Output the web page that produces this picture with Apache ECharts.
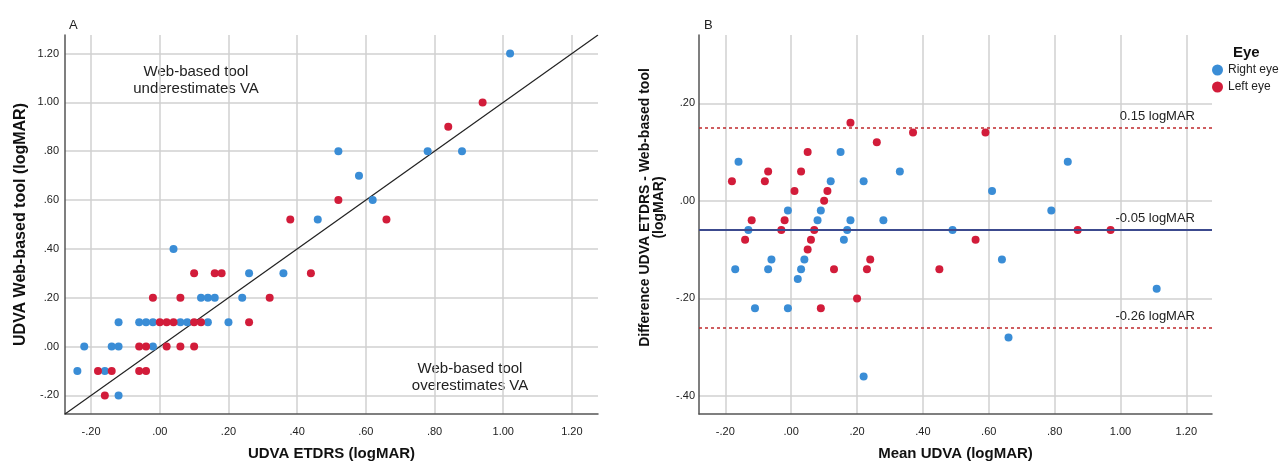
<!DOCTYPE html>
<html>
<head>
<meta charset="utf-8">
<script src="https://cdn.jsdelivr.net/npm/echarts@6/dist/echarts.min.js"></script>
<style>
html,body{margin:0;padding:0;background:#fff;}
#chart{width:1280px;height:466px;}
</style>
</head>
<body>
<div id="chart"></div>
<script>
// ---------- DATA ----------
// Panel A: UDVA ETDRS (x) vs UDVA Web-based tool (y)
const rightEyeA = [
  [0.04,0.40],[0.26,0.30],[0.36,0.30],[0.12,0.20],[0.14,0.20],[0.16,0.20],[0.24,0.20],
  [-0.12,0.10],[-0.06,0.10],[-0.04,0.10],[-0.02,0.10],[0.06,0.10],[0.08,0.10],[0.14,0.10],[0.20,0.10],
  [-0.22,0.00],[-0.14,0.00],[-0.12,0.00],[-0.02,0.00],
  [-0.24,-0.10],[-0.16,-0.10],[-0.12,-0.20],
  [1.02,1.20],[0.78,0.80],[0.88,0.80],[0.52,0.80],[0.58,0.70],[0.62,0.60],[0.46,0.52]
];
const leftEyeA = [
  [0.10,0.30],[0.16,0.30],[0.18,0.30],[0.44,0.30],[-0.02,0.20],[0.06,0.20],[0.32,0.20],
  [0.00,0.10],[0.02,0.10],[0.04,0.10],[0.10,0.10],[0.12,0.10],[0.26,0.10],
  [-0.06,0.00],[-0.04,0.00],[0.02,0.00],[0.06,0.00],[0.10,0.00],
  [-0.18,-0.10],[-0.14,-0.10],[-0.06,-0.10],[-0.04,-0.10],[-0.16,-0.20],
  [0.94,1.00],[0.84,0.90],[0.52,0.60],[0.66,0.52],[0.38,0.52]
];
// Panel B: Mean UDVA (x) vs Difference (y)
const rightEyeB = [
  [-0.16,0.08],[-0.13,-0.06],[-0.01,-0.02],[0.12,0.04],[0.09,-0.02],[0.08,-0.04],[0.15,0.10],
  [0.18,-0.04],[0.17,-0.06],[0.22,0.04],[0.33,0.06],[0.28,-0.04],[0.49,-0.06],[0.84,0.08],
  [0.61,0.02],[0.79,-0.02],[0.16,-0.08],[-0.17,-0.14],[-0.06,-0.12],[-0.07,-0.14],[0.04,-0.12],
  [0.03,-0.14],[0.02,-0.16],[-0.11,-0.22],[-0.01,-0.22],[0.22,-0.36],[0.64,-0.12],[1.11,-0.18],[0.66,-0.28]
];
const leftEyeB = [
  [-0.18,0.04],[-0.08,0.04],[-0.07,0.06],[-0.12,-0.04],[-0.02,-0.04],[-0.03,-0.06],[0.01,0.02],
  [0.03,0.06],[0.05,0.10],[0.10,0.00],[0.11,0.02],[0.07,-0.06],[0.18,0.16],[0.26,0.12],
  [0.37,0.14],[0.59,0.14],[0.87,-0.06],[0.97,-0.06],[-0.14,-0.08],[0.06,-0.08],[0.05,-0.10],
  [0.13,-0.14],[0.23,-0.14],[0.24,-0.12],[0.20,-0.20],[0.09,-0.22],[0.45,-0.14],[0.56,-0.08]
];
// Bland-Altman lines
const loaValues = [0.149, -0.055, -0.258];
const loaLabels = ['0.15 logMAR', '-0.05 logMAR', '-0.26 logMAR'];

// Tick labels
const xTicksA = [-0.2, 0, 0.2, 0.4, 0.6, 0.8, 1.0, 1.2];
const yTicksA = [-0.2, 0, 0.2, 0.4, 0.6, 0.8, 1.0, 1.2];
const xTicksB = [-0.2, 0, 0.2, 0.4, 0.6, 0.8, 1.0, 1.2];
const yTicksB = [-0.4, -0.2, 0, 0.2];

// Axis ranges
const rangeA = [-0.276, 1.276];
const rangeBx = [-0.28, 1.278];
const rangeBy = [-0.437, 0.34];

// ---------- STYLE ----------
const FONT = "'Liberation Sans', Arial, sans-serif";
const BLUE = '#3a8dd6';
const RED = '#d21c3a';
const GRIDC = '#d0d0d0';
const AXISC = '#555';

function fmt(v) {
  const a = Math.abs(v);
  let s = a.toFixed(2);
  if (a < 1) s = s.replace(/^0/, '');
  return (v < -1e-9 ? '-' : '') + s;
}

function axis(gridIndex, min, max, ticks, labelMargin, extra) {
  return Object.assign({
    type: 'value', gridIndex, min, max,
    axisLine: { show: true, onZero: false, lineStyle: { color: AXISC, width: 1.5 } },
    axisTick: { show: false, customValues: ticks },
    axisLabel: { customValues: ticks, formatter: fmt, color: '#222', fontSize: 11, fontFamily: FONT, margin: labelMargin },
    splitLine: { show: true, lineStyle: { color: GRIDC, width: 1.5 } },
    nameTextStyle: { fontFamily: FONT, fontWeight: 'bold', fontSize: 15, color: '#111' }
  }, extra);
}

const chart = echarts.init(document.getElementById('chart'), null, { renderer: 'canvas' });

const option = {
  animation: false,
  backgroundColor: '#fff',
  textStyle: { fontFamily: FONT },
  title: [
    { text: 'A', left: 64, top: 14, textStyle: { fontSize: 13, fontWeight: 'normal', color: '#222', fontFamily: FONT } },
    { text: 'B', left: 699, top: 14, textStyle: { fontSize: 13, fontWeight: 'normal', color: '#222', fontFamily: FONT } },
    { text: 'Eye', left: 1228, top: 40, textStyle: { fontSize: 15, fontWeight: 'bold', color: '#111', fontFamily: FONT } }
  ],
  legend: {
    data: ['Right eye', 'Left eye'],
    orient: 'vertical',
    left: 1212, top: 64, padding: 0,
    icon: 'circle', itemWidth: 11, itemHeight: 11, itemGap: 5,
    textStyle: { fontSize: 12, color: '#222', fontFamily: FONT }
  },
  grid: [
    { left: 65, right: 682, top: 35, bottom: 47 },
    { left: 699, right: 68, top: 35, bottom: 47 }
  ],
  xAxis: [
    axis(0, rangeA[0], rangeA[1], xTicksA, 12, { name: 'UDVA ETDRS (logMAR)', nameLocation: 'middle', nameGap: 32 }),
    axis(1, rangeBx[0], rangeBx[1], xTicksB, 12, { name: 'Mean UDVA (logMAR)', nameLocation: 'middle', nameGap: 32 })
  ],
  yAxis: [
    axis(0, rangeA[0], rangeA[1], yTicksA, 6, {
      name: 'UDVA Web-based tool (logMAR)', nameLocation: 'middle', nameGap: 36,
      nameTextStyle: { fontFamily: FONT, fontWeight: 'bold', fontSize: 16, color: '#111' }
    }),
    axis(1, rangeBy[0], rangeBy[1], yTicksB, 4, {
      name: 'Difference UDVA ETDRS - Web-based tool\n(logMAR)', nameLocation: 'middle', nameGap: 33,
      nameTextStyle: { fontFamily: FONT, fontWeight: 'bold', fontSize: 14, lineHeight: 14, color: '#111', padding: [0, 0, 0, 34] }
    })
  ],
  graphic: [
    { type: 'text', x: 196, y: 80, style: { text: 'Web-based tool\nunderestimates VA', align: 'center', verticalAlign: 'middle', lineHeight: 17, fill: '#222', font: '15px ' + FONT } },
    { type: 'text', x: 470, y: 377, style: { text: 'Web-based tool\noverestimates VA', align: 'center', verticalAlign: 'middle', lineHeight: 17, fill: '#222', font: '15px ' + FONT } }
  ],
  series: [
    {
      type: 'line', xAxisIndex: 0, yAxisIndex: 0, silent: true,
      data: [[rangeA[0], rangeA[0]], [rangeA[1], rangeA[1]]],
      symbol: 'none', lineStyle: { color: '#222', width: 1.2 }, z: 1
    },
    {
      name: 'Right eye', type: 'scatter', xAxisIndex: 0, yAxisIndex: 0,
      data: rightEyeA, symbolSize: 8, itemStyle: { color: BLUE, opacity: 1 }, z: 3
    },
    {
      name: 'Left eye', type: 'scatter', xAxisIndex: 0, yAxisIndex: 0,
      data: leftEyeA, symbolSize: 8, itemStyle: { color: RED, opacity: 1 }, z: 3
    },
    {
      name: 'Right eye', type: 'scatter', xAxisIndex: 1, yAxisIndex: 1,
      data: rightEyeB, symbolSize: 8, itemStyle: { color: BLUE, opacity: 1 }, z: 3,
      markLine: {
        silent: true, symbol: 'none', animation: false,
        data: loaValues.map((v, i) => ({
          yAxis: v,
          lineStyle: i === 1 ? { color: '#3c4a8e', width: 2, type: 'solid' } : { color: '#c0282d', width: 1.5, type: [3, 3] },
          label: {
            show: true, formatter: loaLabels[i], position: 'insideEndTop',
            distance: [17, 5], fontSize: 13, color: '#222', fontFamily: FONT
          }
        }))
      }
    },
    {
      name: 'Left eye', type: 'scatter', xAxisIndex: 1, yAxisIndex: 1,
      data: leftEyeB, symbolSize: 8, itemStyle: { color: RED, opacity: 1 }, z: 3
    }
  ]
};
chart.setOption(option);
</script>
</body>
</html>
